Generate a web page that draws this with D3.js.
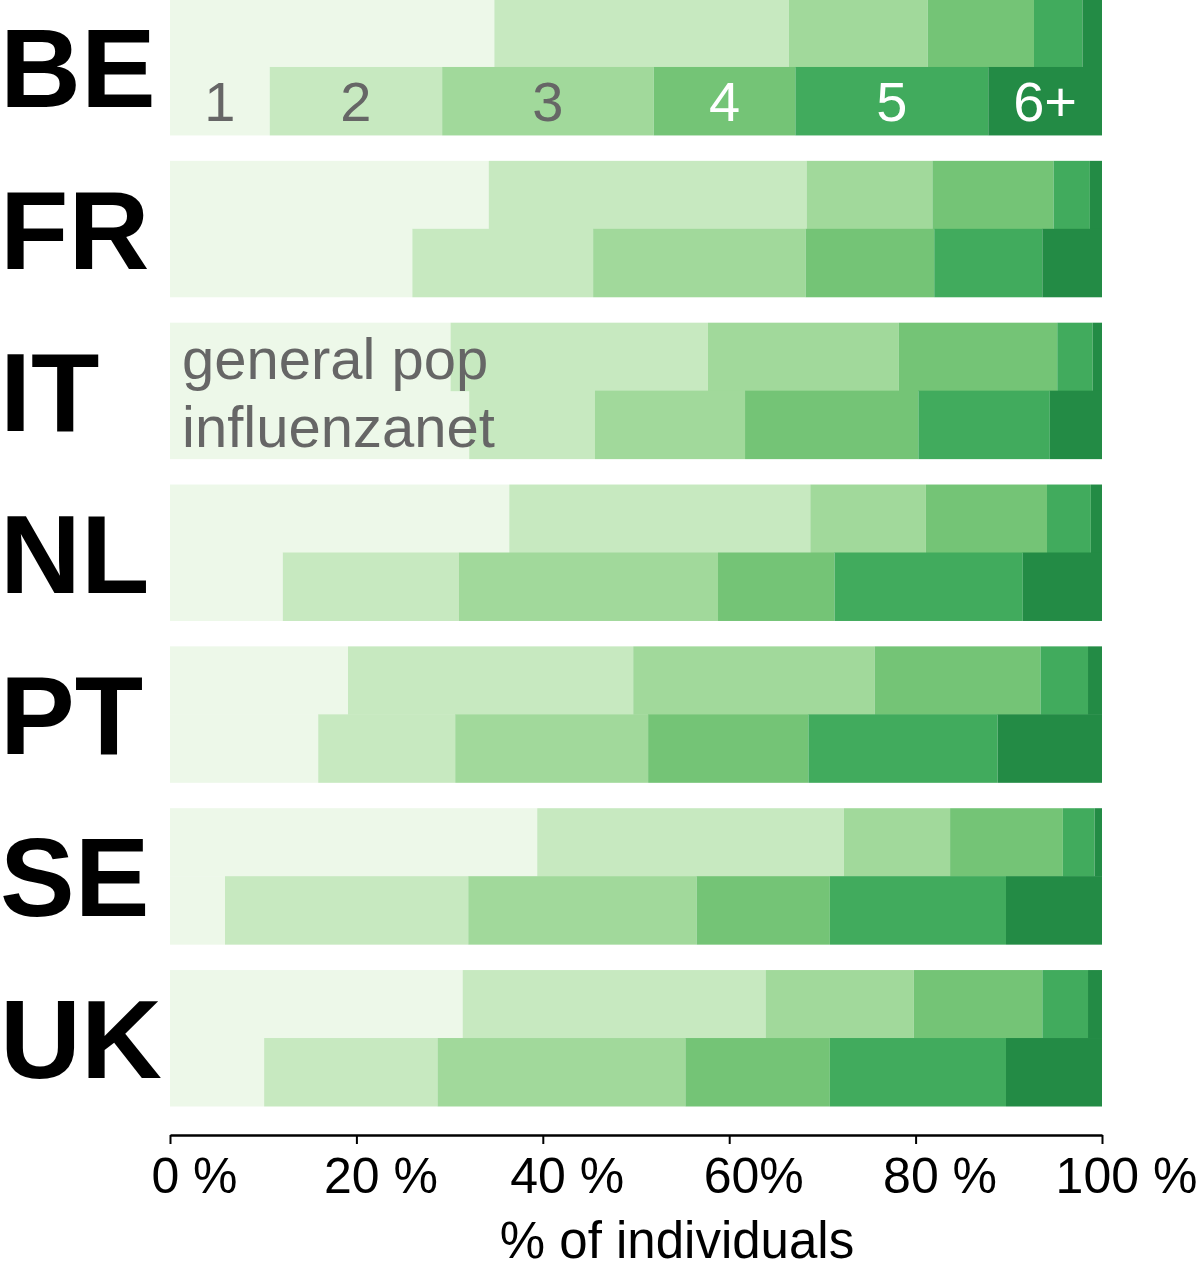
<!DOCTYPE html>
<html>
<head>
<meta charset="utf-8">
<script src="https://cdn.jsdelivr.net/npm/d3@7"></script>
<style>
  body { margin: 0; background: #fff; }
  svg { display: block; font-family: 'Liberation Sans', Arial, Helvetica, sans-serif; }
  .country { font-weight: bold; font-size: 112px; fill: #000; }
  .axis path, .axis line { stroke: #000; }
  .axis text { font-size: 50px; fill: #000; }
  .axis-title { font-size: 51px; fill: #000; }
  .cat-label { font-size: 56px; }
  .pop-label { font-size: 58px; fill: #666; }
</style>
</head>
<body>
<svg id="bars"></svg>
<script>
// svg size
const width = 1200;
const height = 1273;

// countries, household size categories and the two populations
const countries = ['BE', 'FR', 'IT', 'NL', 'PT', 'SE', 'UK'];
const categories = ['1', '2', '3', '4', '5', '6+'];
const populations = ['general pop', 'influenzanet'];

// % of individuals per category (1, 2, 3, 4, 5, 6+)
const generalPop = [
  [34.8, 31.6, 14.9, 11.4, 5.2, 2.1],  // BE
  [34.2, 34.1, 13.5, 13.0, 3.9, 1.3],  // FR
  [30.1, 27.6, 20.5, 17.0, 3.8, 1.0],  // IT
  [36.4, 32.3, 12.4, 13.0, 4.7, 1.2],  // NL
  [19.1, 30.6, 25.9, 17.8, 5.1, 1.5],  // PT
  [39.4, 32.9, 11.4, 12.1, 3.4, 0.8],  // SE
  [31.4, 32.5, 15.9, 13.8, 4.9, 1.5]   // UK
];

const influenzanet = [
  [10.7, 18.5, 22.7, 15.2, 20.7, 12.2], // BE
  [26.0, 19.4, 22.8, 13.8, 11.6, 6.4],  // FR
  [32.1, 13.5, 16.1, 18.6, 14.1, 5.6],  // IT
  [12.1, 18.9, 27.8, 12.5, 20.2, 8.5],  // NL
  [15.9, 14.7, 20.7, 17.2, 20.3, 11.2], // PT
  [5.9, 26.1, 24.5, 14.3, 18.9, 10.3],  // SE
  [10.1, 18.6, 26.6, 15.5, 18.9, 10.3]  // UK
];

// axis ticks
const tickValues = [0, 20, 40, 60, 80, 100];
const tickLabels = ['0 %', '20 %', '40 %', '60%', '80 %', '100 %'];

const greens = ['#edf8e9', '#c7e9c0', '#a1d99b', '#74c476', '#41ab5d', '#238b45'];

const svg = d3.select('#bars')
  .attr('width', width)
  .attr('height', height);

const axisY = 1135;

const scales = {
  x: d3.scaleLinear().domain([0, 100]).range([170, 1102]),
  y: d3.scaleBand().domain(countries).range([-1, 1106]).paddingInner(0.16).paddingOuter(0),
  pop: d3.scaleBand().domain(populations),
  color: d3.scaleOrdinal().domain(categories).range(greens)
};
scales.pop.range([0, scales.y.bandwidth()]);

// one row per country and population
const rows = [];
countries.forEach((c, i) => {
  [generalPop[i], influenzanet[i]].forEach((vals, j) => {
    const row = { country: c, pop: populations[j] };
    categories.forEach((k, n) => row[k] = vals[n]);
    rows.push(row);
  });
});

const stacked = d3.stack().keys(categories)(rows);

drawBars();
drawCountryLabels();
drawCategoryLabels();
drawPopLabels();
drawAxis();

function drawBars() {
  const group = svg.append('g').attr('id', 'stacks');

  group.selectAll('g')
    .data(stacked)
    .enter()
    .append('g')
    .attr('fill', d => scales.color(d.key))
    .selectAll('rect')
    .data(d => d)
    .enter()
    .append('rect')
    .attr('x', d => scales.x(d[0]))
    .attr('y', d => scales.y(d.data.country) + scales.pop(d.data.pop))
    .attr('width', d => scales.x(d[1]) - scales.x(d[0]))
    .attr('height', scales.pop.bandwidth() + 0.5);
}

function drawCountryLabels() {
  svg.append('g')
    .attr('id', 'countries')
    .selectAll('text')
    .data(countries)
    .enter()
    .append('text')
    .attr('class', 'country')
    .attr('x', 0)
    .attr('y', d => scales.y(d) + scales.y.bandwidth() / 2 + 40)
    .text(d => d);
}

// category numbers sit inside the BE influenzanet bar
function drawCategoryLabels() {
  const be = stacked.map(layer => layer.find(d => d.data.country === 'BE' && d.data.pop === 'influenzanet'));
  const y = scales.y('BE') + scales.pop('influenzanet') + scales.pop.bandwidth() / 2;

  svg.append('g')
    .attr('id', 'category-labels')
    .selectAll('text')
    .data(be)
    .enter()
    .append('text')
    .attr('class', 'cat-label')
    .attr('text-anchor', 'middle')
    .attr('x', d => scales.x((d[0] + d[1]) / 2))
    .attr('y', y + 20)
    .attr('fill', (d, i) => i < 3 ? '#666' : '#fff')
    .text((d, i) => categories[i]);
}

function drawPopLabels() {
  const group = svg.append('g').attr('id', 'pop-labels');
  populations.forEach(p => {
    group.append('text')
      .attr('class', 'pop-label')
      .attr('x', 182)
      .attr('y', scales.y('IT') + scales.pop(p) + scales.pop.bandwidth() / 2 + 22)
      .text(p);
  });
}

function drawAxis() {
  const xAxis = d3.axisBottom(scales.x)
    .tickValues(tickValues)
    .tickFormat((d, i) => tickLabels[i])
    .tickSizeOuter(0)
    .tickSizeInner(9);

  const g = svg.append('g')
    .attr('class', 'axis')
    .attr('transform', translate(0, axisY))
    .call(xAxis);

  g.select('.domain').attr('stroke-width', 2.5);
  g.selectAll('.tick line').attr('stroke-width', 2);
  g.selectAll('.tick text')
    .attr('y', 22)
    .attr('dx', 24)
    .attr('font-family', null)
    .attr('font-size', null);
  g.attr('font-family', null).attr('font-size', null);

  svg.append('text')
    .attr('class', 'axis-title')
    .attr('text-anchor', 'middle')
    .attr('x', 677)
    .attr('y', 1258)
    .text('% of individuals');
}

function translate(x, y) {
  return 'translate(' + String(x) + ',' + String(y) + ')';
}
</script>
</body>
</html>
